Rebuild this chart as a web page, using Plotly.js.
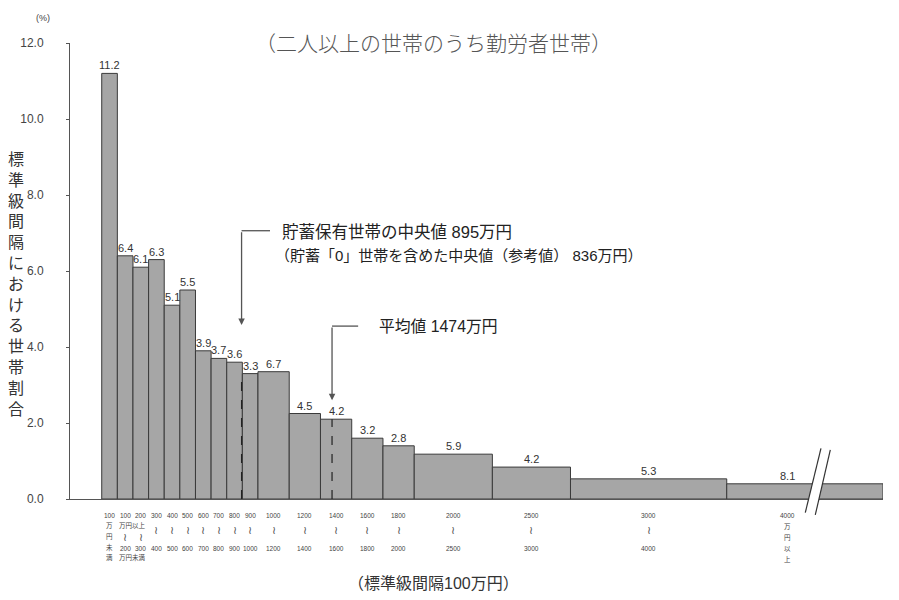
<!DOCTYPE html>
<html>
<head>
<meta charset="utf-8">
<script src="https://cdn.plot.ly/plotly-3.0.1.min.js"></script>
<style>html,body{margin:0;padding:0;background:#fff;}#chart{width:899px;height:600px;}</style>
</head>
<body>
<div id="chart"></div>
<script>
// ---- data ----
const classEdges = [0,100,200,300,400,500,600,700,800,900,1000,1200,1400,1600,1800,2000,2500,3000,4000,5000];
const shareLabels = ['11.2','6.4','6.1','6.3','5.1','5.5','3.9','3.7','3.6','3.3','6.7','4.5','4.2','3.2','2.8','5.9','4.2','5.3','8.1'];
const barHeights = [11.2,6.4,6.1,6.3,5.1,5.5,3.9,3.7,3.6,3.3,3.35,2.25,2.1,1.6,1.4,1.18,0.84,0.53,0.4];
const tickTop = ['100','100','200','300','400','500','600','700','800','900','1000','1200','1400','1600','1800','2000','2500','3000','4000'];
const tickBottom = ['','200','300','400','500','600','700','800','900','1000','1200','1400','1600','1800','2000','2500','3000','4000',''];
const yTickVals = [0,2,4,6,8,10,12];
const yTickText = ['0.0','2.0','4.0','6.0','8.0','10.0','12.0'];
const medianValue = 895;
const meanValue = 1474;
const titleText = '（二人以上の世帯のうち勤労者世帯）';
const yTitleText = '標準級間隔における世帯割合';
const xTitleText = '（標準級間隔100万円）';
const medianLine1 = '貯蓄保有世帯の中央値 895万円';
const medianLine2 = '（貯蓄「0」世帯を含めた中央値（参考値） 836万円）';
const meanLine = '平均値 1474万円';

const FONT = 'Liberation Sans, Noto Sans CJK JP, sans-serif';

const centers = [], widths = [];
for (let i = 0; i < classEdges.length - 1; i++) {
  centers.push((classEdges[i] + classEdges[i+1]) / 2);
  widths.push(classEdges[i+1] - classEdges[i]);
}
const lastIdx = centers.length - 1;
const labelX = centers.map((c, i) => i === lastIdx ? 4390 : c);

const trace = {
  type: 'bar',
  x: centers,
  y: barHeights,
  width: widths,
  marker: {color: '#a6a6a6', line: {color: '#3a3a3a', width: 1}},
  hoverinfo: 'skip'
};

const annotations = [];
// share labels above bars
for (let i = 0; i < centers.length; i++) {
  annotations.push({x: labelX[i], y: barHeights[i], xref: 'x', yref: 'y', text: shareLabels[i], showarrow: false,
    yanchor: 'bottom', xanchor: 'center', yshift: 0, font: {family: FONT, size: 11, color: '#333'}});
}

const small = {family: FONT, size: 6.5, color: '#444'};
const tildeFont = {family: 'DejaVu Sans', size: 11, color: '#555'};
function lab(x, t, ys, f) {
  annotations.push({x: x, y: 0, xref: 'x', yref: 'y', text: t, showarrow: false,
    yshift: ys, yanchor: 'middle', xanchor: 'center', font: f || small});
}
for (let i = 0; i < centers.length; i++) {
  const cx = labelX[i];
  lab(cx, tickTop[i], -16.5);
  if (i === 0) {
    lab(cx, '万', -26.5); lab(cx, '円', -37.5); lab(cx, '未', -48.5); lab(cx, '満', -58.5);
  } else if (i === lastIdx) {
    lab(cx, '万', -28); lab(cx, '円', -38.5); lab(cx, '以', -49); lab(cx, '上', -60);
  } else if (i === 1 || i === 2) {
    lab(cx, '≀', -38, tildeFont);
    lab(cx, tickBottom[i], -49);
  } else {
    lab(cx, '≀', -31, tildeFont);
    lab(cx, tickBottom[i], -49);
  }
}
lab(200, '万円以上', -26);
lab(200, '万円未満', -58);

// title
annotations.push({xref: 'paper', yref: 'paper', x: 0.4467, y: 1, yshift: 1, text: titleText, showarrow: false,
  xanchor: 'center', yanchor: 'middle', font: {family: 'Noto Sans CJK JP, sans-serif', size: 21, color: '#555', weight: 300}});
// (%)
annotations.push({xref: 'paper', yref: 'paper', x: 0, xshift: -27, y: 1, yshift: 25, text: '(%)', showarrow: false,
  xanchor: 'center', yanchor: 'middle', font: {family: FONT, size: 9, color: '#444'}});
// y title (vertical)
annotations.push({xref: 'paper', yref: 'paper', x: 0, xshift: -54, y: 0.5, yshift: -13, text: yTitleText.split('').join('<br>'),
  showarrow: false, xanchor: 'center', yanchor: 'middle', font: {family: FONT, size: 16, color: '#333'}});
// x title
annotations.push({xref: 'paper', yref: 'paper', x: 0.447, y: 0, yshift: -84, text: xTitleText, showarrow: false,
  xanchor: 'center', yanchor: 'middle', font: {family: FONT, size: 16, color: '#333'}});

// median / mean callouts
annotations.push({x: 1141, y: 7.03, xref: 'x', yref: 'y', text: medianLine1, showarrow: false, xanchor: 'left', yanchor: 'middle',
  font: {family: FONT, size: 16.5, color: '#222'}});
annotations.push({x: 1099, y: 6.42, xref: 'x', yref: 'y', text: medianLine2, showarrow: false, xanchor: 'left', yanchor: 'middle',
  font: {family: FONT, size: 15, color: '#222'}});
annotations.push({x: 1760, y: 4.55, xref: 'x', yref: 'y', text: meanLine, showarrow: false, xanchor: 'left', yanchor: 'middle',
  font: {family: FONT, size: 15.8, color: '#222'}});
annotations.push({x: medianValue, y: 4.58, xref: 'x', yref: 'y', axref: 'x', ayref: 'y', ax: medianValue, ay: 7.06,
  showarrow: true, arrowhead: 2, arrowsize: 1, arrowwidth: 1.3, arrowcolor: '#555', text: ''});
annotations.push({x: meanValue, y: 2.6, xref: 'x', yref: 'y', axref: 'x', ayref: 'y', ax: meanValue, ay: 4.55,
  showarrow: true, arrowhead: 2, arrowsize: 1, arrowwidth: 1.3, arrowcolor: '#555', text: ''});

const shapes = [
  {type: 'line', xref: 'x', yref: 'y', x0: medianValue, x1: medianValue, y0: 0, y1: 3.3, line: {color: '#222', width: 1.2, dash: 'dash'}},
  {type: 'line', xref: 'x', yref: 'y', x0: meanValue, x1: meanValue, y0: 0, y1: 2.1, line: {color: '#222', width: 1.2, dash: 'dash'}},
  {type: 'line', xref: 'x', yref: 'y', x0: medianValue, x1: 1077, y0: 7.06, y1: 7.06, line: {color: '#555', width: 1.3}},
  {type: 'line', xref: 'x', yref: 'y', x0: meanValue, x1: 1641, y0: 4.55, y1: 4.55, line: {color: '#555', width: 1.3}},
  // break mark
  {type: 'path', xref: 'paper', yref: 'paper', path: 'M0.9044,-0.030 L0.9237,0.111 L0.9352,0.1075 L0.9167,-0.035 Z',
    fillcolor: '#ffffff', line: {width: 0}, layer: 'above'},
  {type: 'line', xref: 'paper', yref: 'paper', x0: 0.9044, y0: -0.030, x1: 0.9237, y1: 0.111, line: {color: '#333', width: 1.2}},
  {type: 'line', xref: 'paper', yref: 'paper', x0: 0.9167, y0: -0.035, x1: 0.9352, y1: 0.1075, line: {color: '#333', width: 1.2}}
];

const layout = {
  width: 899, height: 600,
  margin: {l: 70, r: 16.3, t: 43, b: 101},
  paper_bgcolor: '#fff', plot_bgcolor: '#fff',
  showlegend: false,
  bargap: 0,
  xaxis: {range: [-203, 5000], showgrid: false, zeroline: false, showline: true, linecolor: '#555', linewidth: 1,
    showticklabels: false, ticks: '', fixedrange: true},
  yaxis: {range: [0, 12], showgrid: false, zeroline: false, showline: true, linecolor: '#555', linewidth: 1,
    tickvals: yTickVals, ticktext: yTickText, ticks: 'outside', ticklen: 3, tickcolor: '#555',
    ticklabelstandoff: 20, tickfont: {family: FONT, size: 12, color: '#444'}, fixedrange: true},
  annotations: annotations,
  shapes: shapes
};

Plotly.newPlot('chart', [trace], layout, {displayModeBar: false, staticPlot: true});
</script>
</body>
</html>
